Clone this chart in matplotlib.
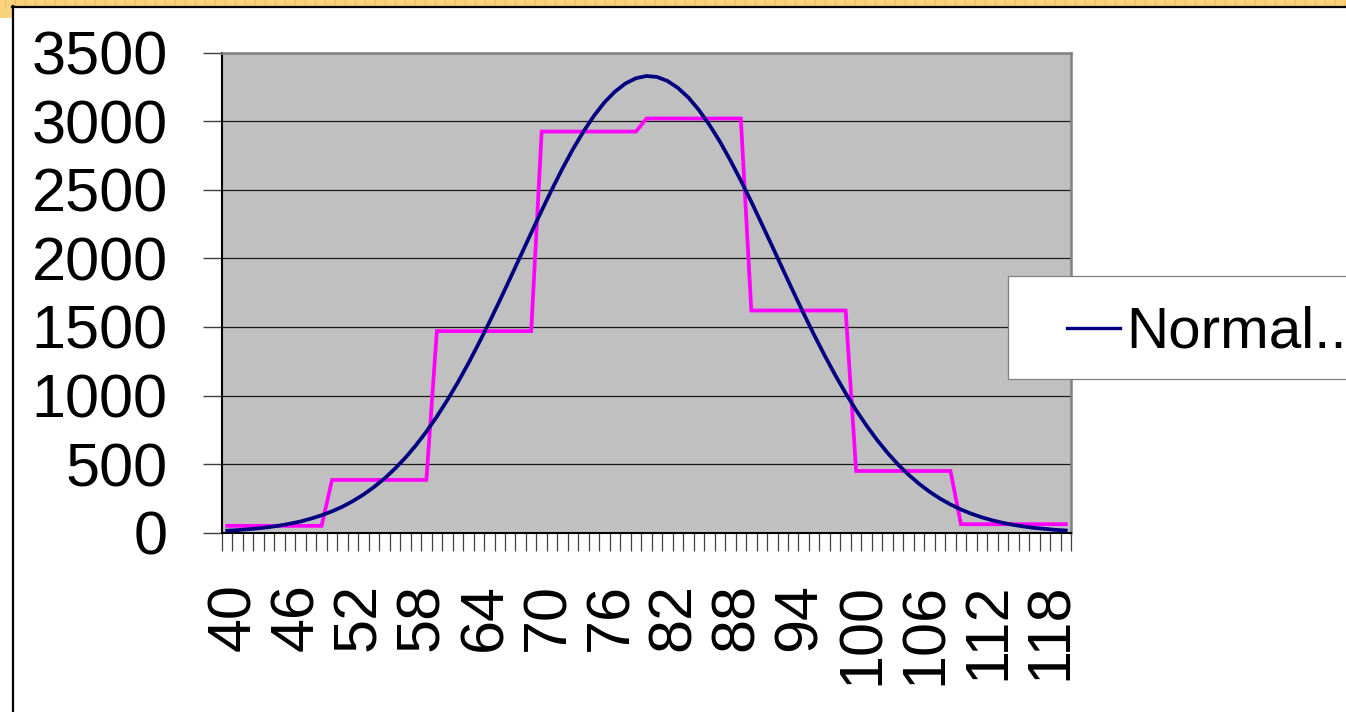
import numpy as np
import matplotlib
matplotlib.use("Agg")
import matplotlib.pyplot as plt
import matplotlib.transforms as mtransforms
from matplotlib.patches import Rectangle
from matplotlib.lines import Line2D

plt.rcParams['font.family'] = ['Liberation Sans', 'DejaVu Sans']

# score categories, one per integer
categories = list(range(40, 121))

# fitted normal curve, one value per category
normal_curve = [
    15, 19, 25, 32, 41, 52, 66, 82, 103, 127,
    156, 190, 231, 278, 333, 395, 467, 547, 637, 737,
    847, 967, 1096, 1234, 1381, 1534, 1693, 1856, 2021, 2186,
    2349, 2507, 2658, 2799, 2927, 3041, 3139, 3217, 3276, 3314,
    3330, 3323, 3294, 3243, 3173, 3082, 2974, 2852, 2715, 2568,
    2413, 2251, 2087, 1922, 1758, 1597, 1441, 1292, 1150, 1017,
    893, 780, 676, 582, 497, 423, 357, 299, 249, 206,
    169, 138, 112, 90, 72, 57, 45, 35, 28, 21,
    16,
]

# observed frequencies, constant over each 10-point bin
observed = [
    50, 50, 50, 50, 50, 50, 50, 50, 50, 50,
    385, 385, 385, 385, 385, 385, 385, 385, 385, 385,
    1470, 1470, 1470, 1470, 1470, 1470, 1470, 1470, 1470, 1470,
    2925, 2925, 2925, 2925, 2925, 2925, 2925, 2925, 2925, 2925,
    3020, 3020, 3020, 3020, 3020, 3020, 3020, 3020, 3020, 3020,
    1620, 1620, 1620, 1620, 1620, 1620, 1620, 1620, 1620, 1620,
    450, 450, 450, 450, 450, 450, 450, 450, 450, 450,
    62, 62, 62, 62, 62, 62, 62, 62, 62, 62,
    62,
]

x_labels = list(range(40, 120, 6))
y_ticks = list(range(0, 3501, 500))

W, H = 1346, 712
fig = plt.figure(figsize=(W / 100, H / 100), dpi=100)
fig.patch.set_facecolor('white')


def fx(px):
    return px / W


def fy(py):
    return 1 - py / H


# selection frame along the top and the top-left corner
fig.patches.append(Rectangle((0, fy(6)), 1, 6 / H, transform=fig.transFigure,
                             facecolor='#F9D27C', edgecolor='none', zorder=0))
fig.patches.append(Rectangle((0, fy(18)), fx(12), 18 / H, transform=fig.transFigure,
                             facecolor='#F9D27C', edgecolor='none', zorder=0))
for px in range(5, W, 10):
    fig.lines.append(Line2D([fx(px), fx(px)], [fy(0), fy(6)], transform=fig.transFigure,
                            color='#F2BC50', lw=0.8))
# chart area border
fig.lines.append(Line2D([fx(12), 1], [fy(6.5), fy(6.5)], transform=fig.transFigure,
                        color='black', lw=1.6))
fig.lines.append(Line2D([fx(12.5), fx(12.5)], [fy(6), 0], transform=fig.transFigure,
                        color='black', lw=1.6))

ax = fig.add_axes([fx(222), fy(532.7), fx(1071) - fx(222), (532.7 - 52.7) / H])
ax.set_facecolor('#C0C0C0')

ax.plot(categories, observed, color='#FF00FF', lw=2.7, solid_joinstyle='miter', zorder=3)
ax.plot(categories, normal_curve, color='#000080', lw=2.7, zorder=4)

ax.set_xlim(39.5, 120.5)
ax.set_ylim(0, 3500)

ax.set_yticks(y_ticks)
ax.set_yticklabels([str(v) for v in y_ticks], fontsize=44)
ax.tick_params(axis='y', direction='out', length=14, width=1, color='#404040', pad=25)
ax.grid(axis='y', color='#1a1a1a', lw=0.9)
ax.set_axisbelow(True)

ax.set_xticks(x_labels)
ax.set_xticklabels([str(v) for v in x_labels], fontsize=44, rotation=90)
ax.set_xticks(np.arange(39.5, 121, 1.0), minor=True)
ax.tick_params(axis='x', which='major', length=0, pad=36)
ax.tick_params(axis='x', which='minor', direction='out', length=13, width=0.9,
               color='#404040')
# nudge the rotated labels so the digits sit centred on their category
shift = mtransforms.ScaledTranslation(7 / 100, 0, fig.dpi_scale_trans)
for lbl in ax.get_xticklabels():
    lbl.set_transform(lbl.get_transform() + shift)

for side in ('top', 'right'):
    ax.spines[side].set_color('#808080')
    ax.spines[side].set_linewidth(1.8)
for side in ('left', 'bottom'):
    ax.spines[side].set_color('black')
    ax.spines[side].set_linewidth(1.5)

# legend, cut off at the right edge
fig.patches.append(Rectangle((fx(1008), fy(379)), fx(1400) - fx(1008), (379 - 276) / H,
                             transform=fig.transFigure, facecolor='white',
                             edgecolor='#808080', lw=0.9, zorder=5))
fig.lines.append(Line2D([fx(1067), fx(1120)], [fy(327.7), fy(327.7)],
                        transform=fig.transFigure, color='#000080', lw=2.4, zorder=6))
fig.text(fx(1126), fy(348), 'Normal...', fontsize=42, va='baseline', ha='left', zorder=6)

fig.savefig('out.png', dpi=100)
